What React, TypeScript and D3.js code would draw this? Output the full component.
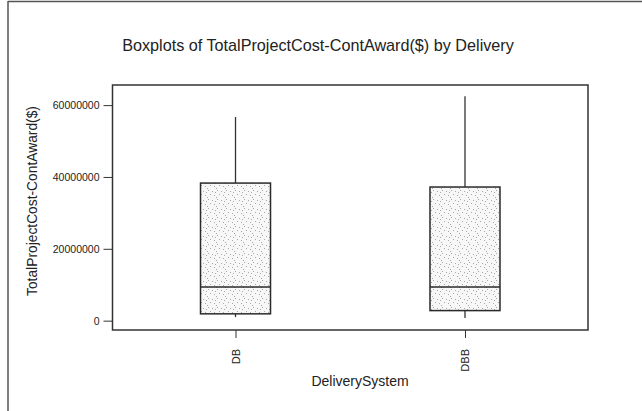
import React, { useEffect, useRef } from "react";
import * as d3 from "d3";

// Delivery systems and box stats (in $)
const categories = ["DB", "DBB"];
const whiskerLow = [1000000, 750000];
const q1 = [1900000, 2800000];
const median = [9400000, 9400000];
const q3 = [38300000, 37200000];
const whiskerHigh = [56700000, 62500000];

const yTicks = [0, 20000000, 40000000, 60000000];

const W = 642;
const H = 411;
const FONT = "'Liberation Sans', Arial, sans-serif";

const App = () => {
    const svgRef = useRef<SVGSVGElement>(null);

    useEffect(() => {
        if (!svgRef.current) return;
        const svg = d3.select(svgRef.current);
        svg.selectAll("*").remove();

        const plot = { left: 112.5, right: 588, top: 85, bottom: 330 };

        // dotted texture for the boxes
        const defs = svg.append("defs");
        const pat = defs.append("pattern")
            .attr("id", "stipple")
            .attr("patternUnits", "userSpaceOnUse")
            .attr("width", 9).attr("height", 9);
        pat.append("rect").attr("width", 9).attr("height", 9).attr("fill", "#f7f7f7");
        [[1, 1], [5, 2], [3, 5], [7, 6], [0, 8], [8, 3]].forEach(([x, y]) => {
            pat.append("rect")
                .attr("x", x).attr("y", y)
                .attr("width", 1).attr("height", 1)
                .attr("fill", "#a8a8a8");
        });

        // outer frame (left + top edges visible)
        svg.append("line").attr("x1", 8).attr("x2", 8).attr("y1", 1).attr("y2", H)
            .attr("stroke", "#555").attr("stroke-width", 1.5);
        svg.append("line").attr("x1", 8).attr("x2", W).attr("y1", 1.5).attr("y2", 1.5)
            .attr("stroke", "#555").attr("stroke-width", 1.5);

        const x = d3.scalePoint<string>()
            .domain(categories)
            .range([plot.left, plot.right])
            .padding(0.536);

        const y = d3.scaleLinear()
            .domain([-2600000, 65600000])
            .range([plot.bottom, plot.top]);

        const boxHalf = 35;

        // ── Boxes ─────────────────────────────────────────────
        categories.forEach((c, i) => {
            const cx = x(c) as number;
            const g = svg.append("g");
            g.append("line")
                .attr("x1", cx).attr("x2", cx)
                .attr("y1", y(q3[i])).attr("y2", y(whiskerHigh[i]))
                .attr("stroke", "#333").attr("stroke-width", 1.3);
            g.append("line")
                .attr("x1", cx).attr("x2", cx)
                .attr("y1", y(q1[i])).attr("y2", y(whiskerLow[i]))
                .attr("stroke", "#333").attr("stroke-width", 1.3);
            g.append("rect")
                .attr("x", cx - boxHalf)
                .attr("y", y(q3[i]))
                .attr("width", boxHalf * 2)
                .attr("height", y(q1[i]) - y(q3[i]))
                .attr("fill", "url(#stipple)")
                .attr("stroke", "#2a2a2a")
                .attr("stroke-width", 1.5);
            g.append("line")
                .attr("x1", cx - boxHalf).attr("x2", cx + boxHalf)
                .attr("y1", y(median[i])).attr("y2", y(median[i]))
                .attr("stroke", "#2a2a2a").attr("stroke-width", 1.5);
        });

        // ── Plot frame ────────────────────────────────────────
        svg.append("rect")
            .attr("x", plot.left).attr("y", plot.top)
            .attr("width", plot.right - plot.left)
            .attr("height", plot.bottom - plot.top)
            .attr("fill", "none")
            .attr("stroke", "#333")
            .attr("stroke-width", 1.5);

        // ── Y axis ────────────────────────────────────────────
        svg.append("g")
            .attr("transform", `translate(${plot.left},0)`)
            .call(d3.axisLeft(y).tickValues(yTicks).tickSize(9).tickPadding(4).tickFormat(d3.format("d")))
            .call(ax => ax.select(".domain").remove())
            .call(ax => ax.selectAll(".tick line").attr("stroke", "#333"))
            .call(ax => ax.selectAll(".tick text")
                .attr("fill", "#222")
                .attr("font-size", "10.5px")
                .attr("font-family", FONT));

        // ── X axis ────────────────────────────────────────────
        svg.append("g")
            .attr("transform", `translate(0,${plot.bottom})`)
            .call(d3.axisBottom(x).tickSize(8).tickPadding(0))
            .call(ax => ax.select(".domain").remove())
            .call(ax => ax.selectAll(".tick line").attr("stroke", "#333"))
            .call(ax => ax.selectAll(".tick text")
                .attr("fill", "#222")
                .attr("font-size", "11px")
                .attr("font-family", FONT)
                .attr("text-anchor", "end")
                .attr("dy", "0.35em")
                .attr("transform", "translate(0,19) rotate(-90)")
                .attr("y", 0)
                .attr("x", 0));

        // ── Titles ────────────────────────────────────────────
        svg.append("text")
            .attr("x", 318).attr("y", 51)
            .attr("text-anchor", "middle")
            .attr("font-size", "16.2px")
            .attr("font-family", FONT)
            .attr("fill", "#222")
            .text("Boxplots of TotalProjectCost-ContAward($) by Delivery");

        svg.append("text")
            .attr("x", 360).attr("y", 386)
            .attr("text-anchor", "middle")
            .attr("font-size", "14px")
            .attr("font-family", FONT)
            .attr("fill", "#222")
            .text("DeliverySystem");

        svg.append("text")
            .attr("transform", `translate(37,201) rotate(-90)`)
            .attr("text-anchor", "middle")
            .attr("font-size", "13.8px")
            .attr("font-family", FONT)
            .attr("fill", "#222")
            .text("TotalProjectCost-ContAward($)");
    }, []);

    return (
        <svg
            ref={svgRef}
            width={W}
            height={H}
            style={{ position: "absolute", left: 0, top: 0, background: "#fff" }}
        />
    );
};

export default App;
